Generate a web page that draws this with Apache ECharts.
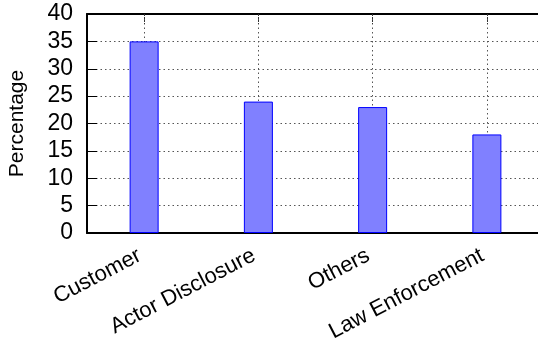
<!DOCTYPE html>
<html>
<head>
<meta charset="utf-8">
<script src="https://cdn.jsdelivr.net/npm/echarts@6/dist/echarts.min.js"></script>
<style>
  html, body { margin: 0; padding: 0; background: #fff; }
  #chart { width: 538px; height: 349px; }
</style>
</head>
<body>
<div id="chart"></div>
<script>
// Source categories and their share (%)
const categories = ['Customer', 'Actor Disclosure', 'Others', 'Law Enforcement'];
const percentages = [35, 24, 23, 18];
const yTicks = { min: 0, max: 40, interval: 5 };

// Helper axis: half-step slots so grid lines / top ticks sit on category centres
const halfSlots = [];
for (let i = 0; i <= categories.length * 2; i++) halfSlots.push(String(i));
const atCentre = (idx) => idx % 2 === 1;

const FONT = 'Liberation Sans, Arial, Helvetica, sans-serif';
const dotted = { color: '#555', width: 1, type: [1.5, 3] };

const chart = echarts.init(document.getElementById('chart'), null, { renderer: 'canvas' });
chart.setOption({
  animation: false,
  backgroundColor: '#fff',
  grid: {
    left: 87, top: 14, width: 457, height: 219,
    containLabel: false, outerBoundsMode: 'none'
  },
  xAxis: [
    {
      type: 'category',
      data: categories,
      position: 'bottom',
      boundaryGap: true,
      axisLine: { show: true, lineStyle: { color: '#000', width: 2 } },
      axisTick: { show: false },
      splitLine: { show: false },
      axisLabel: {
        interval: 0, rotate: 27.5, margin: 19, padding: [0, 5, 0, 0],
        color: '#000', fontFamily: FONT, fontSize: 22
      }
    },
    {
      type: 'category',
      data: halfSlots,
      position: 'top',
      boundaryGap: false,
      axisLine: { show: true, lineStyle: { color: '#000', width: 2 } },
      axisTick: { show: true, inside: true, length: 10, interval: atCentre,
                  lineStyle: { color: '#333', width: 1, type: [2, 1] } },
      axisLabel: { show: false },
      splitLine: { show: true, interval: atCentre, lineStyle: dotted }
    }
  ],
  yAxis: {
    type: 'value',
    min: yTicks.min, max: yTicks.max, interval: yTicks.interval,
    name: 'Percentage',
    nameLocation: 'middle',
    nameGap: 59,
    nameRotate: 90,
    nameTextStyle: { color: '#000', fontFamily: FONT, fontSize: 21 },
    axisLine: { show: true, lineStyle: { color: '#000', width: 2 } },
    axisTick: { show: true, inside: true, length: 10, lineStyle: { color: '#000', width: 1 } },
    axisLabel: { margin: 14, color: '#000', fontFamily: FONT, fontSize: 23 },
    splitLine: { show: true, lineStyle: dotted }
  },
  series: [{
    type: 'bar',
    xAxisIndex: 0,
    data: percentages,
    barWidth: 29,
    itemStyle: { color: '#8080ff', borderColor: '#0000ff', borderWidth: 1 },
    z: 3
  }]
});
</script>
</body>
</html>
